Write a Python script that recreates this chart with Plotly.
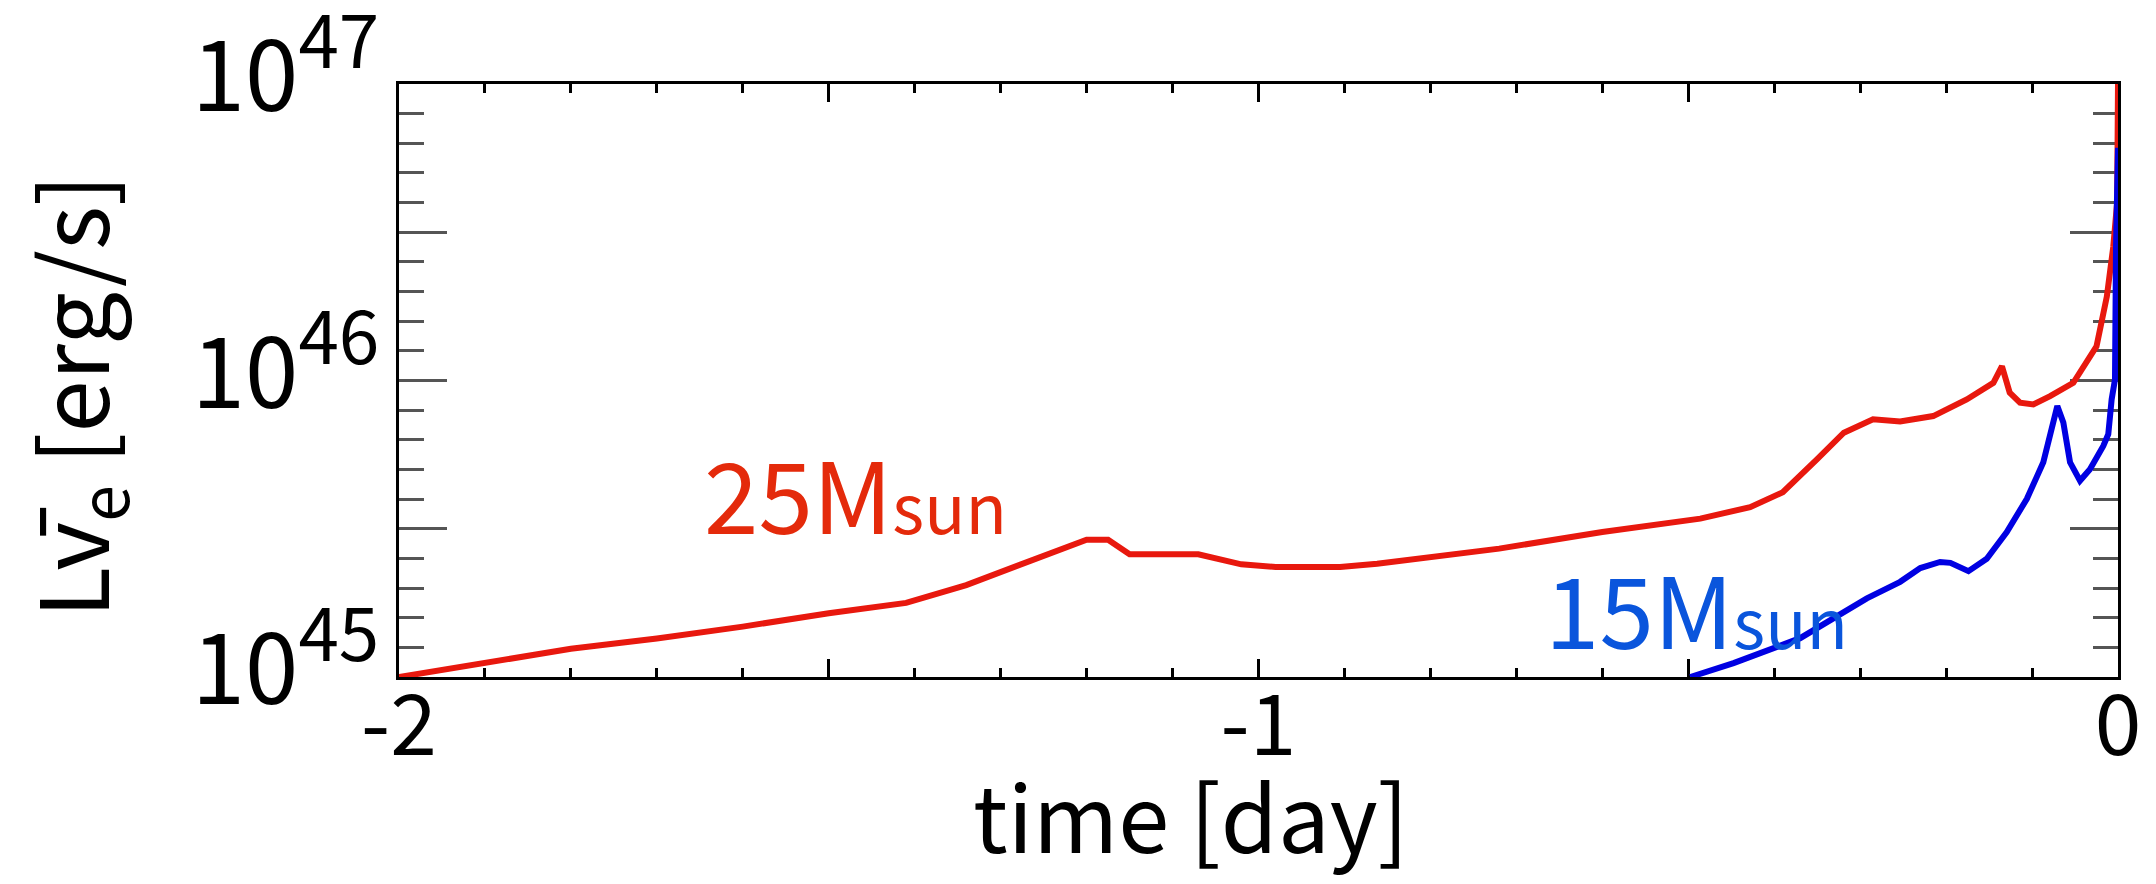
import plotly.graph_objects as go

# Time before core collapse [day]
time_25 = [-2.0, -1.9, -1.8, -1.7, -1.6, -1.5, -1.41, -1.34, -1.26, -1.20, -1.175,
           -1.15, -1.07, -1.02, -0.98, -0.905, -0.862, -0.81, -0.72, -0.60, -0.486,
           -0.428, -0.39, -0.35, -0.319, -0.285, -0.2535, -0.215, -0.176, -0.145,
           -0.135, -0.126, -0.114, -0.0985, -0.079, -0.052, -0.044, -0.025, -0.013,
           -0.0055, -0.001, 0.0]
# Anti-electron-neutrino luminosity, 25 Msun model [10^45 erg/s]
lum_25 = [1.00, 1.122, 1.245, 1.349, 1.479, 1.641, 1.778, 2.042, 2.512, 2.904, 2.904,
          2.594, 2.594, 2.399, 2.350, 2.350, 2.410, 2.506, 2.710, 3.083, 3.420,
          3.741, 4.198, 5.433, 6.668, 7.396, 7.278, 7.586, 8.630, 9.817,
          11.17, 9.099, 8.414, 8.299, 8.851, 9.817, 10.62, 13.03, 19.19,
          28.25, 39.81, 100.0]

time_15 = [-0.4977, -0.4473, -0.3698, -0.2922, -0.2535, -0.230, -0.207, -0.195,
           -0.174, -0.1527, -0.1294, -0.106, -0.0869, -0.0733, -0.0706, -0.0636,
           -0.0558, -0.0442, -0.0326, -0.0171, -0.0113, -0.0074, -0.0035, -0.0023, 0.0]
# Anti-electron-neutrino luminosity, 15 Msun model [10^45 erg/s]
lum_15 = [1.00, 1.114, 1.352, 1.841, 2.094, 2.33, 2.443, 2.427,
          2.275, 2.506, 3.083, 3.990, 5.297, 7.586, 8.204, 7.211,
          5.297, 4.592, 5.023, 6.012, 6.592, 8.630, 10.07, 28.25, 60.95]

UNIT = 1.0e45

x_tick_vals = [-2, -1.5, -1, -0.5, 0]
x_tick_text = ["-2", "", "-1", "", "0"]
y_tick_exp = [45.0, 45.5, 46.0, 46.5, 47.0]
y_tick_text = ["<span style='font-size:96px'>10</span><sup>45</sup>", "",
               "<span style='font-size:96px'>10</span><sup>46</sup>", "",
               "<span style='font-size:96px'>10</span><sup>47</sup>"]

FONT = "Noto Sans CJK JP"

fig = go.Figure()
fig.add_trace(go.Scatter(
    x=time_25, y=[v * UNIT for v in lum_25], mode="lines",
    line=dict(color="#e8180e", width=6), showlegend=False, hoverinfo="skip"))
fig.add_trace(go.Scatter(
    x=time_15, y=[v * UNIT for v in lum_15], mode="lines",
    line=dict(color="#0000e2", width=6), showlegend=False, hoverinfo="skip"))

fig.update_layout(
    width=2156, height=884,
    margin=dict(l=399, r=38, t=84, b=207),
    paper_bgcolor="white", plot_bgcolor="white",
    font=dict(family=FONT, color="black"),
    xaxis=dict(
        range=[-2, 0], showgrid=False, zeroline=False, automargin=False,
        showline=True, linecolor="black", linewidth=3, mirror="ticks",
        ticks="inside", ticklen=18, tickwidth=2.5, tickcolor="black",
        tickmode="array", tickvals=x_tick_vals, ticktext=x_tick_text,
        tickfont=dict(family=FONT, size=84, color="black"),
        ticklabelstandoff=-26, ticklabeloverflow="allow",
        minor=dict(ticks="inside", ticklen=9, tickwidth=2.5, tickcolor="black",
                   tickmode="linear", tick0=-2, dtick=0.1),
        layer="below traces",
    ),
    yaxis=dict(
        type="log", range=[45, 47], showgrid=False, zeroline=False, automargin=False,
        showline=True, linecolor="black", linewidth=3, mirror="ticks",
        ticks="inside", ticklen=48, tickwidth=3, tickcolor="#555555",
        tickmode="array", tickvals=[10.0 ** e for e in y_tick_exp], ticktext=y_tick_text,
        tickfont=dict(family=FONT, size=104, color="black"),
        ticklabelstandoff=-4, ticklabelshift=-9, ticklabeloverflow="allow",
        minor=dict(ticks="inside", ticklen=25, tickwidth=3, tickcolor="#555555",
                   tickmode="array",
                   tickvals=[10.0 ** (45 + k / 10) for k in range(21) if k % 5 != 0]),
        layer="below traces",
    ),
)

fig.add_annotation(
    x=-1.648, y=45.628, xref="x", yref="y", xanchor="left", yanchor="middle",
    text="25M<span style='font-size:68px'>sun</span>", showarrow=False,
    font=dict(family=FONT, size=98, color="#e42a0b"))
fig.add_annotation(
    x=-0.669, y=45.24, xref="x", yref="y", xanchor="left", yanchor="middle",
    text="15M<span style='font-size:68px'>sun</span>", showarrow=False,
    font=dict(family=FONT, size=98, color="#0a55dc"))

fig.add_annotation(
    x=0.4607, y=-0.229, xref="paper", yref="paper", xanchor="center", yanchor="middle",
    text="time [day]", showarrow=False,
    font=dict(family=FONT, size=92, color="black"))
fig.add_annotation(
    x=-0.189, y=0.474, xref="paper", yref="paper", xanchor="center", yanchor="middle",
    text="Lv\u0304<sub>e</sub> [erg/s]", textangle=-90, showarrow=False,
    font=dict(family=FONT, size=94, color="black"))

fig.write_html("out.html")
